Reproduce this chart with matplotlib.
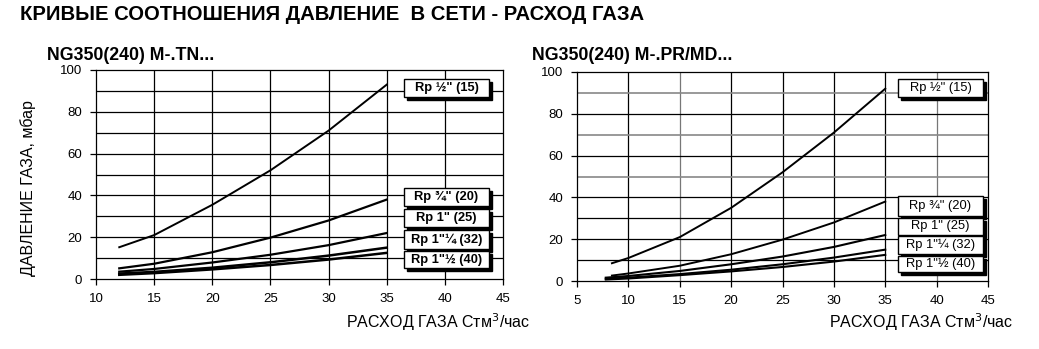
import numpy as np
import matplotlib.pyplot as plt
from matplotlib.patches import Rectangle

plt.rcParams['font.family'] = ['Liberation Sans', 'DejaVu Sans']

# ------------------------------------------------------------
# data
# ------------------------------------------------------------
labels = ['Rp ½" (15)', 'Rp ¾" (20)', 'Rp 1" (25)', 'Rp 1"¼ (32)', 'Rp 1"½ (40)']

# left chart: NG350(240) M-.TN...
tn_flow = [12, 15, 20, 25, 30, 35]
tn_p15 = [15.2, 21, 35.5, 52, 71, 93]
tn_p20 = [5.1, 7.3, 12.8, 19.8, 28, 38]
tn_p25 = [3.5, 4.8, 7.9, 11.6, 16.2, 22]
tn_p32 = [2.6, 3.4, 5.4, 8, 11.2, 15]
tn_p40 = [2.0, 2.8, 4.6, 6.7, 9.3, 12.5]

# right chart: NG350(240) M-.PR/MD...
pr_flow_a = [8.4, 10, 15, 20, 25, 30, 35]
pr_p15 = [8.5, 11, 21, 35, 52, 71, 92]
pr_p20 = [2.6, 3.6, 7.3, 12.8, 19.8, 28, 38]
pr_flow_b = [7.8, 10, 15, 20, 25, 30, 35]
pr_p25 = [1.6, 2.4, 4.8, 8, 11.7, 16.3, 22]
pr_p32 = [1.1, 1.6, 3.3, 5.4, 8, 11.2, 15]
pr_p40 = [0.7, 1.2, 2.8, 4.6, 6.7, 9.3, 12.5]

W, H = 1039, 349
fig = plt.figure(figsize=(W / 100, H / 100), dpi=100)


def px_axes(x0, y0, x1, y1):
    # pixel box (top-left origin) -> figure fraction
    return fig.add_axes([x0 / W, 1 - y1 / H, (x1 - x0) / W, (y1 - y0) / H])


def setup(ax, xmin, gray_x, gray_y):
    ax.set_xlim(xmin, 45)
    ax.set_ylim(0, 100)
    ax.set_xticks(np.arange(xmin, 46, 5))
    ax.set_yticks(np.arange(0, 101, 20))
    for x in np.arange(xmin + 5, 45, 5):
        ax.axvline(x, color='#777777' if x in gray_x else 'black', lw=0.9, zorder=1)
    for y in np.arange(10, 100, 10):
        ax.axhline(y, color='#888888' if y in gray_y else 'black',
                   lw=1.2 if y in gray_y else 0.9, zorder=1)
    for s in ax.spines.values():
        s.set_linewidth(0.9)
    ax.tick_params(direction='out', length=4, width=0.9, labelsize=9.5, pad=6)


def box(x0, y0, x1, y1, text, bold):
    # legend box with shadow, pixel coords
    fig.patches.append(Rectangle((x0 / W + 3 / W, 1 - y1 / H - 3 / H), (x1 - x0) / W, (y1 - y0) / H,
                                 transform=fig.transFigure, facecolor='black', edgecolor='black', zorder=5))
    fig.patches.append(Rectangle((x0 / W, 1 - y1 / H), (x1 - x0) / W, (y1 - y0) / H,
                                 transform=fig.transFigure, facecolor='white', edgecolor='black',
                                 lw=1.0, zorder=6))
    fig.text((x0 + x1) / 2 / W, 1 - (y0 + y1) / 2 / H, text, ha='center', va='center',
             fontsize=9.3, fontweight='bold' if bold else 'normal', zorder=7)


fig.text(20 / W, 1 - 15 / H, 'КРИВЫЕ СООТНОШЕНИЯ ДАВЛЕНИЕ  В СЕТИ - РАСХОД ГАЗА',
         fontsize=14.6, fontweight='bold', va='center')

# ------------------------------------------------------------
# left chart
# ------------------------------------------------------------
ax1 = px_axes(96, 70, 503, 279)
setup(ax1, 10, [], [])
for p, lw in zip([tn_p15, tn_p20, tn_p25, tn_p32, tn_p40], [1.4, 1.6, 1.6, 1.8, 1.8]):
    ax1.plot(tn_flow, p, color='black', lw=lw, zorder=3)
fig.text(47 / W, 1 - 55 / H, 'NG350(240) M-.TN...', fontsize=12.8, fontweight='bold', va='center')
fig.text(28 / W, 1 - 188 / H, 'ДАВЛЕНИЕ ГАЗА, мбар', rotation=90, fontsize=11.5, va='center', ha='center')
fig.text(530 / W, 1 - 322 / H, 'РАСХОД ГАЗА Стм$^3$/час', fontsize=11.5, ha='right', va='center')

box(404, 79, 489, 97, labels[0], True)
tn_rows = [(188, 206), (209, 227), (230, 249), (251, 268)]
for (y0, y1), t in zip(tn_rows, labels[1:]):
    box(404, y0, 489, y1, t, True)

# ------------------------------------------------------------
# right chart
# ------------------------------------------------------------
ax2 = px_axes(577, 72, 988, 281)
setup(ax2, 5, [15, 40], [50, 70, 90])
ax2.plot(pr_flow_a, pr_p15, color='black', lw=1.4, zorder=3)
ax2.plot(pr_flow_a, pr_p20, color='black', lw=1.4, zorder=3)
for p in [pr_p25, pr_p32, pr_p40]:
    ax2.plot(pr_flow_b, p, color='black', lw=1.5, zorder=3)
fig.text(532 / W, 1 - 55 / H, 'NG350(240) M-.PR/MD...', fontsize=12.8, fontweight='bold', va='center')
fig.text(1013 / W, 1 - 322 / H, 'РАСХОД ГАЗА Стм$^3$/час', fontsize=11.5, ha='right', va='center')

box(898, 79, 983, 97, labels[0], False)
pr_rows = [(196, 216), (218, 235), (236, 254), (256, 272)]
for (y0, y1), t in zip(pr_rows, labels[1:]):
    box(898, y0, 983, y1, t, False)

fig.savefig('out.png', dpi=100)
